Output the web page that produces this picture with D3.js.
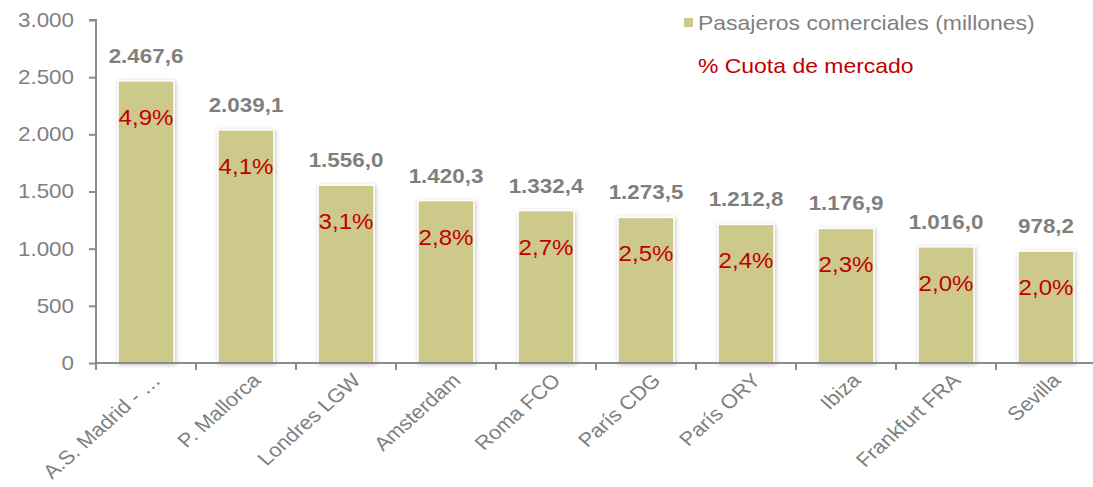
<!DOCTYPE html>
<html>
<head>
<meta charset="utf-8">
<script src="https://cdn.jsdelivr.net/npm/d3@7"></script>
<style>
  body { margin: 0; background: #fff; }
  text { font-family: Arial, "Liberation Sans", sans-serif; }
</style>
</head>
<body>
<div id="chart"></div>
<script>
const airports = ["A.S. Madrid - …", "P. Mallorca", "Londres LGW", "Amsterdam", "Roma FCO", "París CDG", "París ORY", "Ibiza", "Frankfurt FRA", "Sevilla"]
const passengers = [2467.6, 2039.1, 1556.0, 1420.3, 1332.4, 1273.5, 1212.8, 1176.9, 1016.0, 978.2]
const share = [4.9, 4.1, 3.1, 2.8, 2.7, 2.5, 2.4, 2.3, 2.0, 2.0]
const yTicks = [0, 500, 1000, 1500, 2000, 2500, 3000]

const width = 1093
const height = 487
const margin = { top: 20, bottom: 124, left: 96, right: -3 }

const grey = "#7f7f7f"
const red = "#c00000"
const barColor = "#cdc98a"
// the original text looks a bit wide, so stretch it horizontally
const sx = 1.12

const data = airports.map((a, i) => ({ name: a, value: passengers[i], pct: share[i] }))

// thousands separator is "." and decimal is ","
const fmtNum = v => {
  const parts = v.toFixed(1).split(".")
  return parts[0].replace(/\B(?=(\d{3})+(?!\d))/g, ".") + "," + parts[1]
}
const fmtTick = v => String(v).replace(/\B(?=(\d{3})+(?!\d))/g, ".")

const svg = d3.select("#chart")
  .append("svg")
  .attr("width", width)
  .attr("height", height)

const defs = svg.append("defs")
const shadow = defs.append("filter").attr("id", "shadow")
  .attr("x", "-20%").attr("y", "-10%").attr("width", "140%").attr("height", "120%")
shadow.append("feDropShadow")
  .attr("dx", 1).attr("dy", 1).attr("stdDeviation", 2)
  .attr("flood-color", "#000").attr("flood-opacity", 0.25)

const x = d3.scaleBand()
  .domain(airports)
  .range([margin.left, width - margin.right])
  .paddingInner(0.44)
  .paddingOuter(0.22)

const y = d3.scaleLinear()
  .domain([0, 3000])
  .range([height - margin.bottom, margin.top])

// bars
svg.append("g")
  .selectAll("rect")
  .data(data)
  .enter()
  .append("rect")
  .attr("x", d => x(d.name))
  .attr("y", d => y(d.value))
  .attr("width", x.bandwidth())
  .attr("height", d => y(0) - y(d.value))
  .attr("fill", barColor)
  .attr("stroke", "#fff")
  .attr("stroke-width", 1.5)
  .attr("filter", "url(#shadow)")

// y axis
const yAxis = svg.append("g")
  .attr("transform", `translate(${margin.left},0)`)
  .call(d3.axisLeft(y).tickValues(yTicks).tickFormat(fmtTick).tickSize(7).tickPadding(15))
yAxis.select(".domain").attr("stroke", "#8c8c8c").attr("stroke-width", 2)
  .attr("d", `M${-7},${y(3000)}H0V${y(0)}`)
yAxis.selectAll(".tick line").attr("stroke", "#8c8c8c").attr("stroke-width", 2)
yAxis.selectAll(".tick text")
  .attr("fill", grey)
  .attr("transform", `translate(-22,0) scale(${sx},1)`)
  .attr("x", 0)
  .style("font-size", "20px")

// x axis, ticks between the bands
const xAxisG = svg.append("g")
  .attr("transform", `translate(0,${y(0)})`)
xAxisG.append("line")
  .attr("x1", margin.left).attr("x2", width)
  .attr("stroke", "#8c8c8c").attr("stroke-width", 2)
const step = x.step()
xAxisG.selectAll(".sep")
  .data(d3.range(airports.length))
  .enter()
  .append("line")
  .attr("x1", i => x(airports[i]) - step * 0.22)
  .attr("x2", i => x(airports[i]) - step * 0.22)
  .attr("y1", 0).attr("y2", 7)
  .attr("stroke", "#8c8c8c").attr("stroke-width", 2)

xAxisG.selectAll(".lbl")
  .data(data)
  .enter()
  .append("text")
  .attr("transform", d => `translate(${x(d.name) + x.bandwidth() / 2 + 5},${9}) scale(${sx},1) rotate(-45)`)
  .attr("text-anchor", "end")
  .attr("dy", "0.7em")
  .attr("fill", grey)
  .style("font-size", "19.5px")
  .text(d => d.name)

// value labels
svg.append("g")
  .selectAll("text")
  .data(data)
  .enter()
  .append("text")
  .attr("transform", d => `translate(${x(d.name) + x.bandwidth() / 2},${y(d.value) - 18}) scale(${sx},1)`)
  .attr("text-anchor", "middle")
  .attr("fill", grey)
  .style("font-size", "20px")
  .style("font-weight", "bold")
  .text(d => fmtNum(d.value))

// percentage labels
svg.append("g")
  .selectAll("text")
  .data(data)
  .enter()
  .append("text")
  .attr("transform", d => `translate(${x(d.name) + x.bandwidth() / 2},${y(d.value) + 44}) scale(${sx},1)`)
  .attr("text-anchor", "middle")
  .attr("fill", red)
  .style("font-size", "21.5px")
  .text(d => d.pct.toFixed(1).replace(".", ",") + "%")

// legend
const legend = svg.append("g")
legend.append("rect")
  .attr("x", 684).attr("y", 18).attr("width", 9).attr("height", 9)
  .attr("fill", barColor)
legend.append("text")
  .attr("transform", `translate(698,30) scale(${sx},1)`)
  .attr("fill", grey)
  .style("font-size", "20.5px")
  .text("Pasajeros comerciales (millones)")
legend.append("text")
  .attr("transform", `translate(698,73) scale(${sx},1)`)
  .attr("fill", red)
  .style("font-size", "20.5px")
  .text("% Cuota de mercado")
</script>
</body>
</html>
